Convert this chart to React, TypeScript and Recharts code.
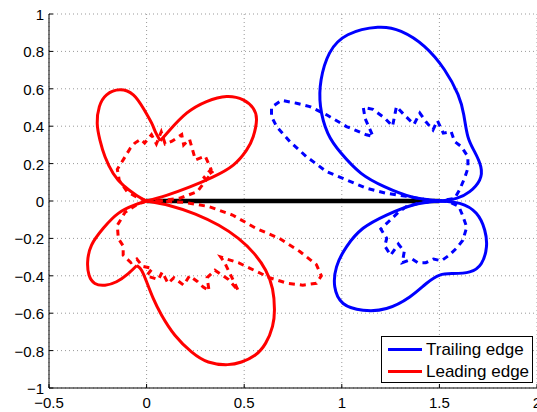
import { CartesianGrid, Line, LineChart, XAxis, YAxis } from 'recharts'

type Pt = [number, number]

const xTicks = [-0.5, 0, 0.5, 1, 1.5, 2]
const yTicks = [-1, -0.8, -0.6, -0.4, -0.2, 0, 0.2, 0.4, 0.6, 0.8, 1]

const seriesNames = ['Trailing edge', 'Leading edge']

// leading edge (solid), one array per lobe so the cusps stay sharp
const leadUpperRight: Pt[] = [
    [0, 0], [0.102, 0.03], [0.222, 0.075], [0.341, 0.129], [0.444, 0.192],
    [0.512, 0.272], [0.546, 0.344], [0.563, 0.434], [0.546, 0.496], [0.495, 0.541],
    [0.41, 0.559], [0.307, 0.532], [0.205, 0.47], [0.119, 0.38], [0.07, 0.322],
]
const leadUpperLeft: Pt[] = [
    [0.07, 0.322], [0.045, 0.37], [0.026, 0.416], [-0.017, 0.496], [-0.068, 0.568],
    [-0.137, 0.595], [-0.205, 0.568], [-0.242, 0.505], [-0.253, 0.416], [-0.239, 0.326],
    [-0.213, 0.237], [-0.171, 0.147], [-0.119, 0.084], [-0.051, 0.03], [0, 0],
]
const leadLowerLeft: Pt[] = [
    [0, 0], [-0.06, -0.021], [-0.145, -0.066], [-0.222, -0.146], [-0.282, -0.236],
    [-0.302, -0.325], [-0.295, -0.396], [-0.265, -0.441], [-0.213, -0.45], [-0.154, -0.432],
    [-0.094, -0.388], [-0.05, -0.345],
]
const leadLowerRight: Pt[] = [
    [-0.05, -0.345], [-0.026, -0.37], [0, -0.432], [0.034, -0.521], [0.077, -0.611],
    [0.145, -0.718], [0.23, -0.807], [0.316, -0.861], [0.415, -0.875], [0.486, -0.861],
    [0.555, -0.825], [0.61, -0.76], [0.645, -0.67], [0.655, -0.58], [0.645, -0.47],
    [0.61, -0.37], [0.55, -0.28], [0.47, -0.2], [0.37, -0.13], [0.25, -0.07],
    [0.12, -0.025], [0, 0],
]

// leading edge (dashed)
const leadDashUpper: Pt[] = [
    [0, 0], [-0.05, 0.02], [-0.1, 0.05], [-0.12, 0.08], [-0.14, 0.11], [-0.15, 0.17],
    [-0.12, 0.22], [-0.085, 0.28], [-0.06, 0.31], [-0.03, 0.33], [-0.01, 0.31],
    [0.025, 0.355], [0.05, 0.305], [0.075, 0.37], [0.095, 0.305], [0.13, 0.32],
    [0.18, 0.355], [0.19, 0.3], [0.22, 0.33], [0.25, 0.22], [0.3, 0.24], [0.33, 0.17],
    [0.29, 0.12], [0.34, 0.16], [0.26, 0.05], [0.17, 0.015], [0.08, 0.003], [0, 0],
]
const leadDashLower: Pt[] = [
    [0, 0], [-0.05, -0.02], [-0.11, -0.06], [-0.15, -0.13], [-0.145, -0.2], [-0.12, -0.24],
    [-0.12, -0.29], [-0.08, -0.33], [-0.05, -0.31], [-0.02, -0.35], [0.03, -0.36],
    [0, -0.4], [0.06, -0.42], [0.08, -0.38], [0.11, -0.44], [0.14, -0.41], [0.19, -0.45],
    [0.22, -0.4], [0.26, -0.43], [0.29, -0.46], [0.32, -0.48], [0.31, -0.41], [0.35, -0.37],
    [0.42, -0.42], [0.47, -0.48], [0.4, -0.33], [0.38, -0.3], [0.47, -0.33], [0.53, -0.36],
    [0.63, -0.41], [0.72, -0.44], [0.8, -0.45], [0.87, -0.44], [0.895, -0.4], [0.87, -0.34],
    [0.785, -0.27], [0.68, -0.2], [0.56, -0.146], [0.44, -0.075], [0.32, -0.03],
    [0.2, -0.008], [0.1, -0.002], [0, 0],
]

// trailing edge (solid)
const trailUpper: Pt[] = [
    [1.5, 0], [1.355, 0.023], [1.218, 0.077], [1.099, 0.148], [0.997, 0.255],
    [0.928, 0.363], [0.891, 0.505], [0.894, 0.648], [0.937, 0.791], [1.031, 0.889],
    [1.184, 0.929], [1.304, 0.907], [1.423, 0.827], [1.526, 0.702], [1.595, 0.57],
    [1.625, 0.46], [1.646, 0.344], [1.68, 0.264], [1.712, 0.184], [1.706, 0.112],
    [1.655, 0.05], [1.587, 0.014], [1.5, 0],
]
const trailLower: Pt[] = [
    [1.5, 0], [1.604, -0.013], [1.689, -0.066], [1.732, -0.155], [1.741, -0.245],
    [1.715, -0.334], [1.655, -0.379], [1.57, -0.388], [1.502, -0.396], [1.433, -0.441],
    [1.348, -0.513], [1.229, -0.575], [1.109, -0.584], [1.007, -0.548], [0.964, -0.459],
    [0.973, -0.352], [1.024, -0.245], [1.109, -0.146], [1.229, -0.075], [1.365, -0.021],
    [1.5, 0],
]

// trailing edge (dashed)
const trailDashUpper: Pt[] = [
    [1.5, 0], [1.42, 0.01], [1.33, 0.025], [1.229, 0.041], [1.126, 0.068], [1.024, 0.113],
    [0.922, 0.157], [0.819, 0.237], [0.734, 0.318], [0.666, 0.398], [0.64, 0.452],
    [0.64, 0.502], [0.691, 0.538], [0.768, 0.523], [0.836, 0.505], [0.922, 0.461],
    [1.024, 0.398], [1.126, 0.354], [1.16, 0.345], [1.12, 0.44], [1.11, 0.5], [1.16, 0.49],
    [1.22, 0.443], [1.26, 0.4], [1.28, 0.505], [1.32, 0.46], [1.37, 0.41], [1.4, 0.47],
    [1.43, 0.425], [1.467, 0.38], [1.49, 0.43], [1.52, 0.363], [1.56, 0.371], [1.578, 0.318],
    [1.612, 0.291], [1.646, 0.237], [1.646, 0.175], [1.629, 0.122], [1.603, 0.059],
    [1.578, 0.014], [1.5, 0],
]
const trailDashLower: Pt[] = [
    [1.5, 0], [1.4, -0.01], [1.33, -0.03], [1.29, -0.06], [1.25, -0.1], [1.2, -0.15],
    [1.23, -0.2], [1.22, -0.24], [1.25, -0.29], [1.29, -0.23], [1.32, -0.27], [1.31, -0.33],
    [1.36, -0.31], [1.39, -0.33], [1.43, -0.33], [1.47, -0.31], [1.51, -0.32], [1.55, -0.29],
    [1.59, -0.25], [1.62, -0.21], [1.64, -0.14], [1.62, -0.08], [1.6, -0.03], [1.55, -0.004],
    [1.5, 0],
]

const chord: Pt[] = [[0, 0], [1.5, 0]]

const BLUE = '#0000ff'
const RED = '#ff0000'
const FONT = '"Liberation Sans", Arial, Helvetica, sans-serif'

const toRows = (pts: Pt[]) => pts.map(([x, y]) => ({ x, y }))
const fmt = (v: number) => String(v).replace('-', '\u2212')

const YTick = (props: any) => {
    const { x, y, payload } = props
    return (
        <g>
            <line x1={49} x2={53} y1={y} y2={y} stroke="#000" />
            <text x={x} y={y} dy={6} textAnchor="end" fontSize={15} fontFamily={FONT} fill="#000">
                {fmt(payload.value)}
            </text>
        </g>
    )
}

const XTick = (props: any) => {
    const { x, y, payload } = props
    return (
        <g>
            <line x1={x} x2={x} y1={388} y2={384} stroke="#000" />
            <text x={x} y={y} dy={11} textAnchor="middle" fontSize={15} fontFamily={FONT} fill="#000">
                {fmt(payload.value)}
            </text>
        </g>
    )
}

const curve = (pts: Pt[], color: string, key: string, dashed = false, type: any = 'natural') => (
    <Line
        key={key}
        data={toRows(pts)}
        dataKey="y"
        type={type}
        stroke={color}
        strokeWidth={3}
        strokeDasharray={dashed ? '6 5' : undefined}
        dot={false}
        activeDot={false}
        legendType="none"
        isAnimationActive={false}
    />
)

export default function App() {
    return (
        <div style={{ position: 'absolute', left: 0, top: 0, width: 537, height: 412, background: '#fff' }}>
            <LineChart width={537} height={412} margin={{ top: 14, right: 0, bottom: 0, left: 0 }}>
                <CartesianGrid stroke="#999" strokeDasharray="1 3" />
                <XAxis
                    dataKey="x"
                    type="number"
                    domain={[-0.5, 2]}
                    ticks={xTicks}
                    allowDataOverflow
                    height={24}
                    tickSize={0}
                    tickMargin={9}
                    tick={<XTick />}
                    axisLine={{ stroke: '#000' }}
                    interval={0}
                />
                <YAxis
                    type="number"
                    domain={[-1, 1]}
                    ticks={yTicks}
                    allowDataOverflow
                    width={49}
                    tickSize={0}
                    tickMargin={5}
                    tick={<YTick />}
                    axisLine={{ stroke: '#000' }}
                    interval={0}
                />
                <Line
                    data={toRows(chord)}
                    dataKey="y"
                    type="linear"
                    stroke="#000"
                    strokeWidth={4.5}
                    dot={false}
                    activeDot={false}
                    legendType="none"
                    isAnimationActive={false}
                />
                {curve(trailUpper, BLUE, 'tu')}
                {curve(trailLower, BLUE, 'tl')}
                {curve(trailDashUpper, BLUE, 'tdu', true, 'linear')}
                {curve(trailDashLower, BLUE, 'tdl', true, 'linear')}
                {curve(leadUpperRight, RED, 'lur')}
                {curve(leadUpperLeft, RED, 'lul')}
                {curve(leadLowerLeft, RED, 'lll')}
                {curve(leadLowerRight, RED, 'llr')}
                {curve(leadDashUpper, RED, 'ldu', true, 'linear')}
                {curve(leadDashLower, RED, 'ldl', true, 'linear')}
            </LineChart>
            <div
                style={{
                    position: 'absolute',
                    left: 381,
                    top: 336,
                    width: 150,
                    height: 45,
                    border: '1px solid #000',
                    background: '#fff',
                    fontFamily: FONT,
                    fontSize: 17,
                }}
            >
                {seriesNames.map((name, i) => (
                    <div
                        key={name}
                        style={{ position: 'absolute', left: 0, top: 2 + i * 21.5, height: 21, display: 'flex', alignItems: 'center' }}
                    >
                        <div style={{ marginLeft: 6, width: 34, height: 3, background: i === 0 ? BLUE : RED }} />
                        <span style={{ marginLeft: 4, lineHeight: '21px', whiteSpace: 'nowrap' }}>{name}</span>
                    </div>
                ))}
            </div>
        </div>
    )
}
